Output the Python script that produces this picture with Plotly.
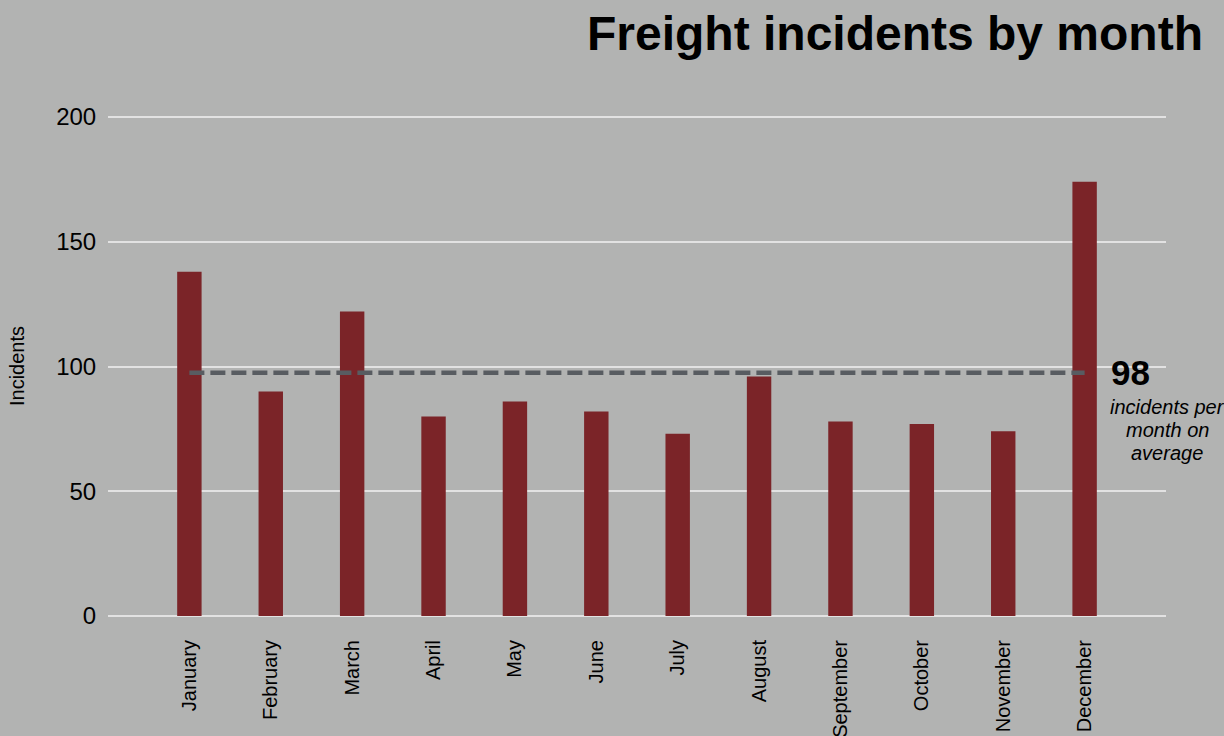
import plotly.graph_objects as go

# Monthly freight incident counts
months = ["January", "February", "March", "April", "May", "June",
          "July", "August", "September", "October", "November", "December"]
incidents = [138, 90, 122, 80, 86, 82, 73, 96, 78, 77, 74, 174]

y_ticks = [0, 50, 100, 150, 200]
avg_value = sum(incidents) / len(incidents)
avg_label = f"{round(avg_value)}"
avg_caption = ["incidents per", "month on", "average"]

BG = "#b2b3b2"
BAR = "#7b2428"
GRID = "#e2e2e2"
FONT = "Liberation Sans, Arial, sans-serif"

fig = go.Figure()

fig.add_trace(go.Bar(
    x=list(range(len(months))),
    y=incidents,
    width=0.3,
    marker=dict(color=BAR, line=dict(width=0)),
    hoverinfo="x+y",
))

# Average line across the months
fig.add_trace(go.Scatter(
    x=[0, len(months) - 1],
    y=[avg_value, avg_value],
    mode="lines",
    line=dict(color="#585c61", width=4.5, dash="15px,6px"),
    hoverinfo="skip",
))

L, R, T, B = 108, 58, 112, 120
W = 1224 - L - R
H = 736 - T - B

annotations = [
    dict(
        text="Incidents",
        xref="paper", yref="paper",
        x=(17 - L) / W, y=(736 - B - 366) / H,
        xanchor="center", yanchor="middle",
        textangle=-90, showarrow=False,
        font=dict(size=20, family=FONT, color="#000000"),
    ),
    dict(
        text=f"<b>{avg_label}</b>",
        xref="paper", yref="y",
        x=(1109 - L) / W, y=avg_value,
        xanchor="left", yanchor="middle",
        showarrow=False,
        font=dict(size=35, family=FONT, color="#000000"),
    ),
]
# Caption under the average value, one line per annotation
for i, line in enumerate(avg_caption):
    annotations.append(dict(
        text=f"<i>{line}</i>",
        xref="paper", yref="y",
        x=(1167 - L) / W, y=avg_value,
        xanchor="center", yanchor="middle",
        yshift=-(34 + 23 * i),
        showarrow=False,
        font=dict(size=20, family=FONT, color="#000000"),
    ))

fig.update_layout(
    width=1224,
    height=736,
    paper_bgcolor=BG,
    plot_bgcolor=BG,
    showlegend=False,
    margin=dict(l=L, r=R, t=T, b=B, pad=0, autoexpand=False),
    font=dict(family=FONT, color="#000000"),
    title=dict(
        text="<b>Freight incidents by month</b>",
        font=dict(size=48, family=FONT, color="#000000"),
        x=1203 / 1224, xanchor="right", xref="container",
        y=1 - 33 / 736, yanchor="middle",
    ),
    xaxis=dict(
        range=[-1, len(months)],
        tickmode="array",
        tickvals=list(range(len(months))),
        ticktext=months,
        tickangle=-90,
        tickfont=dict(size=20, family=FONT, color="#000000"),
        showgrid=False,
        zeroline=False,
        showline=False,
        ticks="outside",
        ticklen=15,
        tickcolor="rgba(0,0,0,0)",
        automargin=False,
        fixedrange=True,
    ),
    yaxis=dict(
        range=[0, 202],
        tickmode="array",
        tickvals=y_ticks,
        ticktext=[str(v) for v in y_ticks],
        tickfont=dict(size=24, family=FONT, color="#000000"),
        showgrid=True,
        gridcolor=GRID,
        gridwidth=2,
        zeroline=True,
        zerolinecolor=GRID,
        zerolinewidth=2,
        showline=False,
        ticks="outside",
        ticklen=6,
        tickcolor="rgba(0,0,0,0)",
        automargin=False,
        fixedrange=True,
    ),
    annotations=annotations,
)

fig.write_html("out.html")
